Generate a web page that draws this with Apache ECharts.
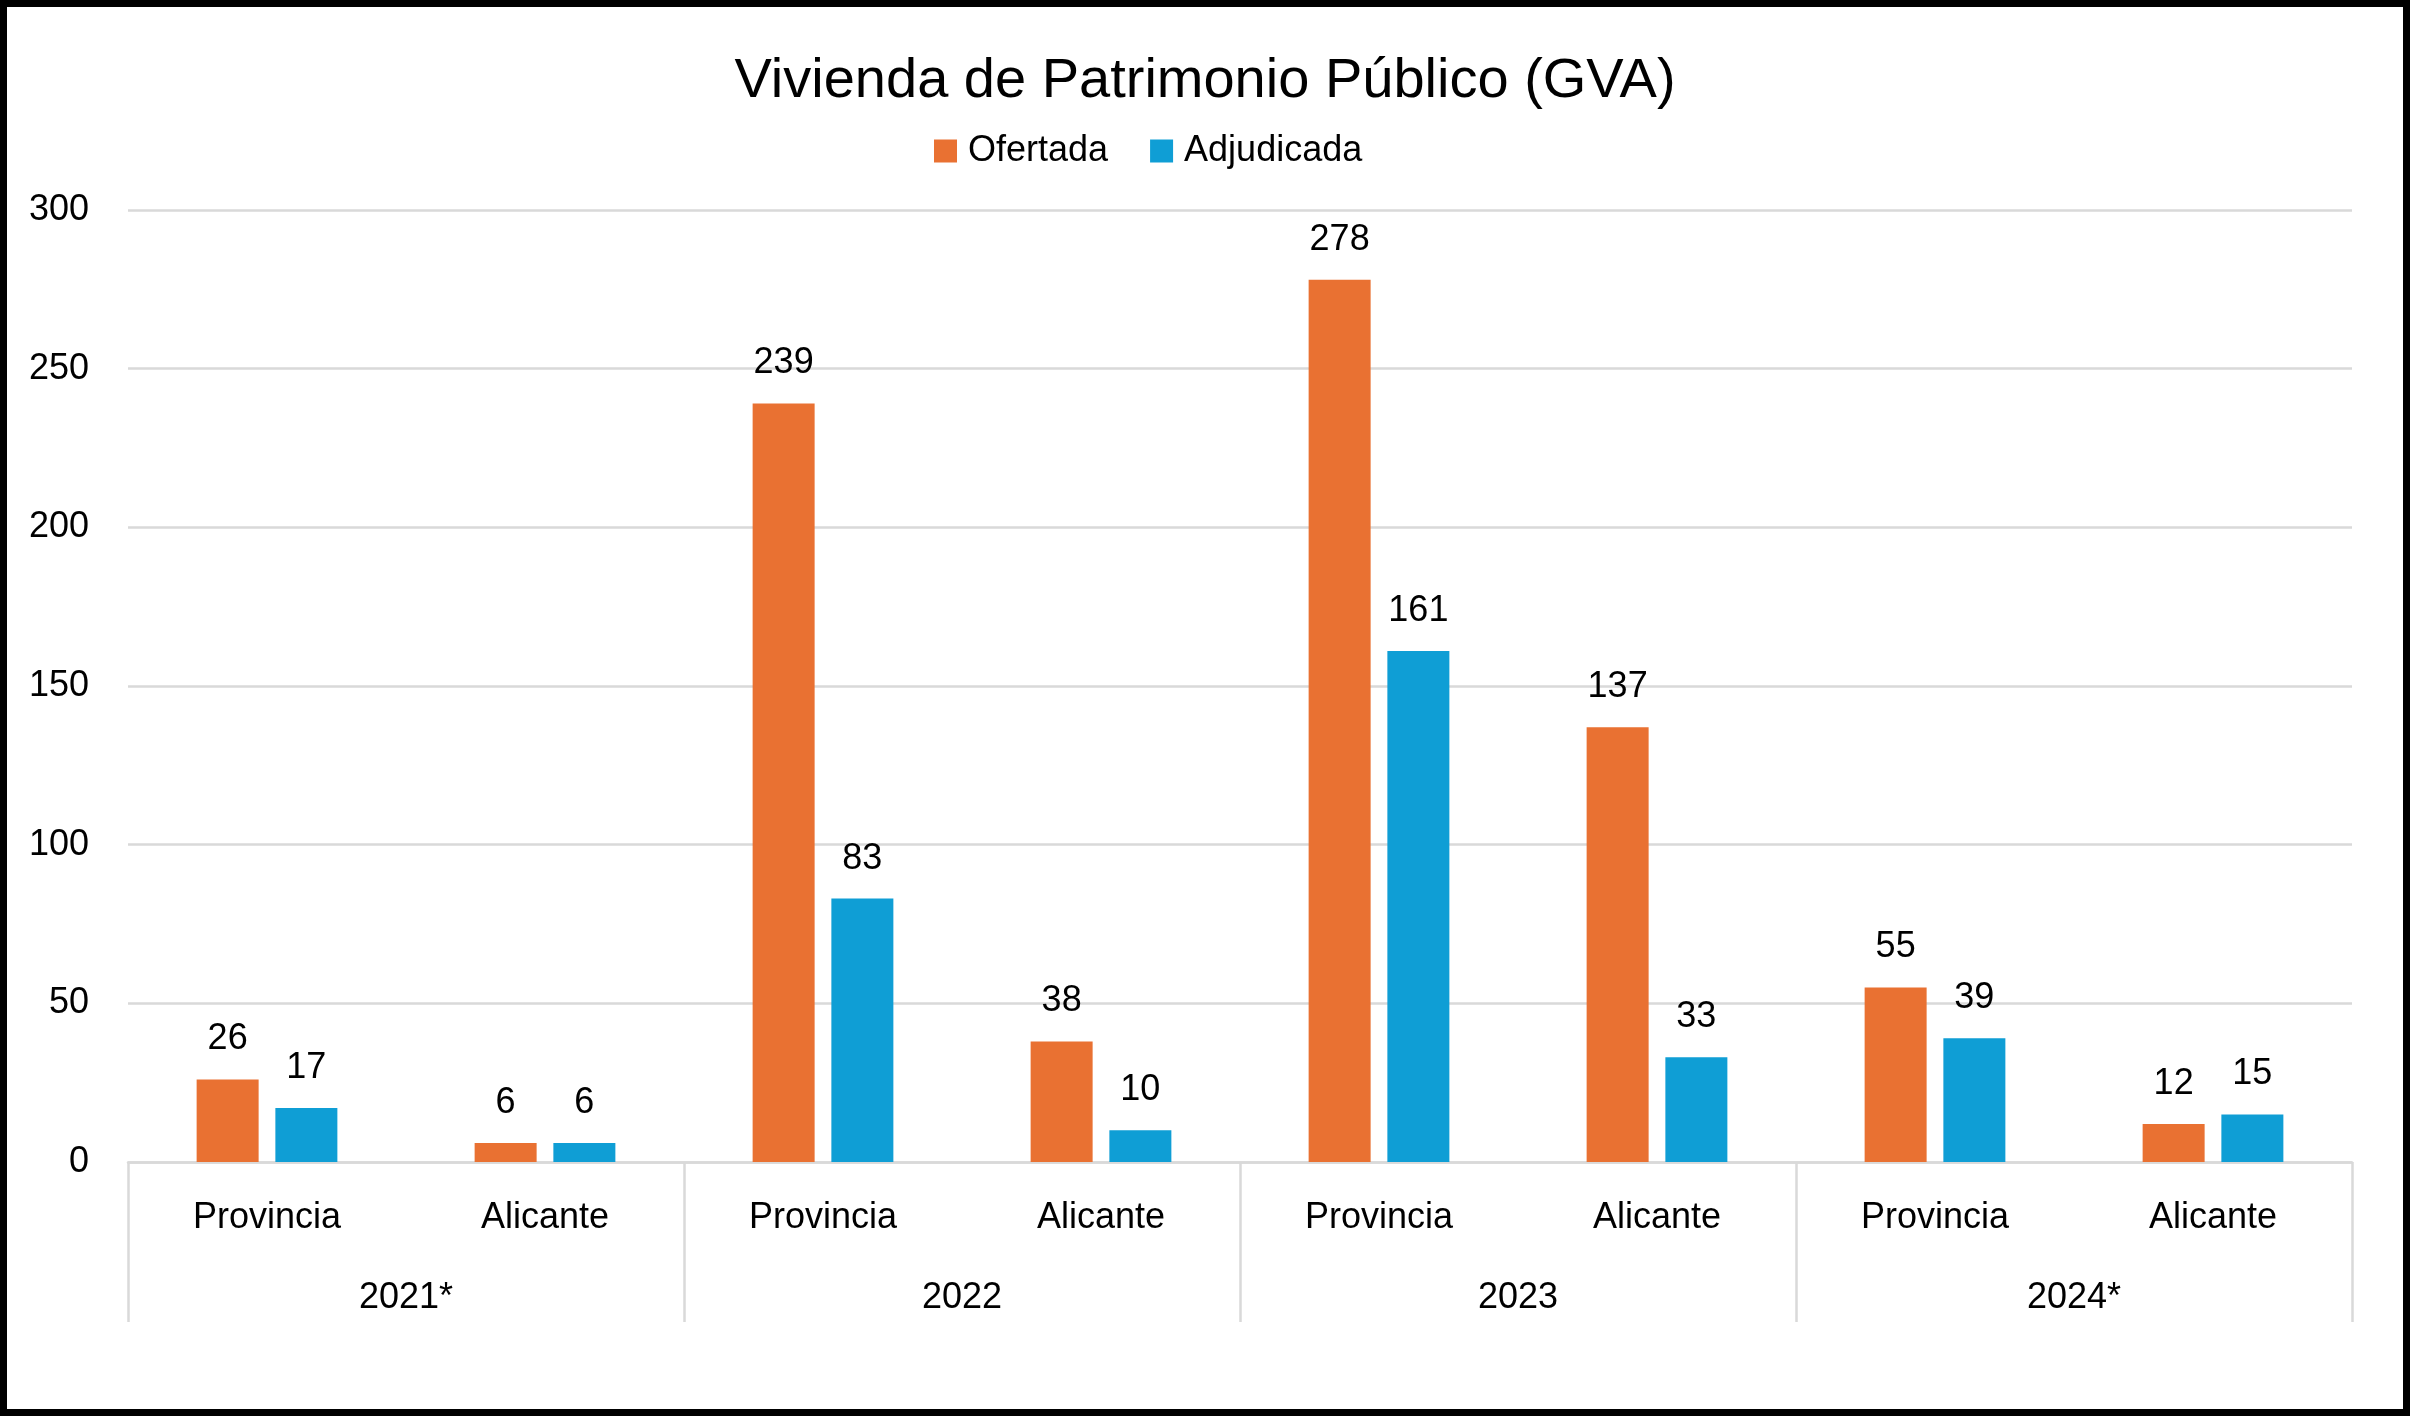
<!DOCTYPE html>
<html>
<head>
<meta charset="utf-8">
<script src="https://cdn.jsdelivr.net/npm/echarts@6/dist/echarts.min.js"></script>
<style>
html,body{margin:0;padding:0;background:#fff;}
#c{width:2410px;height:1416px;}
</style>
</head>
<body>
<div id="c"></div>
<script>
const years = ['2021*', '2022', '2023', '2024*'];
const places = ['Provincia', 'Alicante'];
const categories = ['Provincia', 'Alicante', 'Provincia', 'Alicante', 'Provincia', 'Alicante', 'Provincia', 'Alicante'];
const ofertada = [26, 6, 239, 38, 278, 137, 55, 12];
const adjudicada = [17, 6, 83, 10, 161, 33, 39, 15];
const yTicks = { min: 0, max: 300, interval: 50 };

const FONT = '"Liberation Sans", Arial, sans-serif';
const GRAY = '#d9d9d9';

const chart = echarts.init(document.getElementById('c'));
chart.setOption({
  animation: false,
  backgroundColor: '#fff',
  textStyle: { fontFamily: FONT, color: '#000' },
  title: {
    text: 'Vivienda de Patrimonio Público (GVA)',
    left: 'center',
    top: 49,
    textStyle: { fontFamily: FONT, fontSize: 56, fontWeight: 'normal', color: '#000' }
  },
  legend: {
    left: 929,
    top: 128,
    itemWidth: 23,
    itemHeight: 23,
    itemGap: 42,
    icon: 'rect',
    textStyle: { fontFamily: FONT, fontSize: 36, color: '#000', padding: [0, 0, 0, 6] },
    data: ['Ofertada', 'Adjudicada']
  },
  grid: { left: 128, right: 58, top: 210, bottom: 254 },
  xAxis: [
    {
      type: 'category',
      position: 'bottom',
      data: categories,
      axisLine: { show: true, lineStyle: { color: GRAY, width: 2.5 } },
      axisTick: { show: false },
      axisLabel: { margin: 38, fontSize: 36, color: '#000', fontFamily: FONT, interval: 0 }
    },
    {
      type: 'category',
      position: 'bottom',
      offset: 0,
      data: years,
      axisLine: { show: false },
      axisTick: { show: true, length: 160, interval: 0, lineStyle: { color: GRAY, width: 2.5 } },
      axisLabel: { margin: 118, fontSize: 36, color: '#000', fontFamily: FONT, interval: 0 }
    }
  ],
  yAxis: {
    type: 'value',
    min: yTicks.min,
    max: yTicks.max,
    interval: yTicks.interval,
    axisLine: { show: false },
    axisTick: { show: false },
    splitLine: { lineStyle: { color: GRAY, width: 2.5 } },
    axisLabel: { margin: 39, fontSize: 36, color: '#000', fontFamily: FONT, padding: [10, 0, 0, 0] }
  },
  series: [
    {
      name: 'Ofertada',
      type: 'bar',
      xAxisIndex: 0,
      data: ofertada,
      barWidth: 62,
      barGap: '27%',
      itemStyle: { color: '#E97132' },
      label: { show: true, position: 'top', distance: 22, fontSize: 36, color: '#000', fontFamily: FONT }
    },
    {
      name: 'Adjudicada',
      type: 'bar',
      xAxisIndex: 0,
      data: adjudicada,
      barWidth: 62,
      barGap: '27%',
      itemStyle: { color: '#0F9ED5' },
      label: { show: true, position: 'top', distance: 22, fontSize: 36, color: '#000', fontFamily: FONT }
    }
  ],
  graphic: [
    {
      type: 'rect',
      silent: true,
      z: 100,
      shape: { x: 3.5, y: 3.5, width: 2403, height: 1409 },
      style: { fill: 'none', stroke: '#000', lineWidth: 7 }
    }
  ]
});
</script>
</body>
</html>
